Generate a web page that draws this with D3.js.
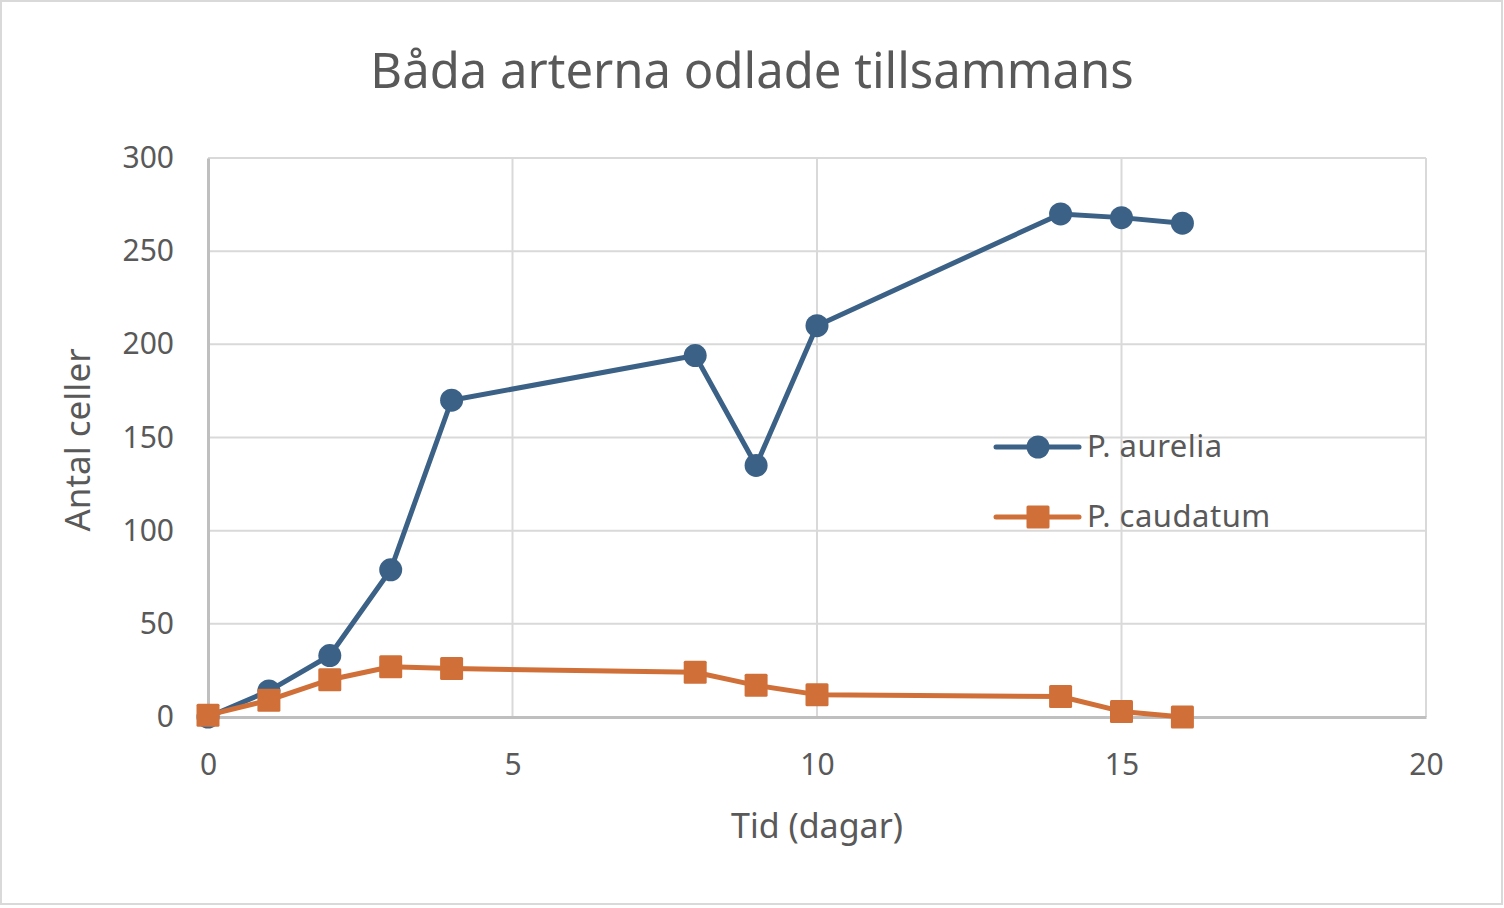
<!DOCTYPE html>
<html>
<head>
<meta charset="utf-8">
<script src="https://cdn.jsdelivr.net/npm/d3@7"></script>
<style>
  body { margin: 0; background: #fff; }
  text { font-family: "Noto Sans", "Open Sans", sans-serif; fill: #595959; }
</style>
</head>
<body>
<script>
// data
const days = [0, 1, 2, 3, 4, 8, 9, 10, 14, 15, 16];
const aurelia = [0, 14, 33, 79, 170, 194, 135, 210, 270, 268, 265];
const caudatum = [1, 9, 20, 27, 26, 24, 17, 12, 11, 3, 0];
const xTicks = [0, 5, 10, 15, 20];
const yTicks = [0, 50, 100, 150, 200, 250, 300];

const blue = '#3b6186', orange = '#d07038';

const svg = d3.select('body').append('svg')
              .attr('width', 1504).attr('height', 908);

svg.append('rect').attr('x', 1).attr('y', 1).attr('width', 1501).attr('height', 903)
   .style('fill', '#fff').style('stroke', '#d9d9d9').style('stroke-width', 2);

const x = d3.scaleLinear().domain([0, 20]).range([208, 1426]);
const y = d3.scaleLinear().domain([0, 300]).range([717, 158]);

// gridlines
svg.append('g').selectAll('line').data(yTicks.slice(1)).join('line')
   .attr('x1', x(0)).attr('x2', x(20)).attr('y1', d => y(d)).attr('y2', d => y(d))
   .style('stroke', '#d9d9d9').style('stroke-width', 2);
svg.append('g').selectAll('line').data(xTicks.slice(1)).join('line')
   .attr('x1', d => x(d)).attr('x2', d => x(d)).attr('y1', y(0)).attr('y2', y(300))
   .style('stroke', '#d9d9d9').style('stroke-width', 2);

// axes
const xAxis = svg.append('g').attr('transform', `translate(0,${y(0)})`)
   .call(d3.axisBottom(x).tickValues(xTicks).tickSize(0).tickPadding(34));
const yAxis = svg.append('g').attr('transform', `translate(${x(0)},0)`)
   .call(d3.axisLeft(y).tickValues(yTicks).tickSize(0).tickPadding(34));
[xAxis, yAxis].forEach(a => {
  a.select('.domain').style('stroke', '#bfbfbf').style('stroke-width', 3);
  a.selectAll('text').style('font-size', '30px').style('fill', '#595959')
   .style('font-family', '"Noto Sans", sans-serif');
});
xAxis.selectAll('text').attr('dy', '0.71em').attr('y', 37);

// title & axis titles
svg.append('text').attr('x', 752).attr('y', 88).attr('text-anchor', 'middle')
   .style('font-size', '49px').text('Båda arterna odlade tillsammans');
svg.append('text').attr('x', 817).attr('y', 838).attr('text-anchor', 'middle')
   .style('font-size', '34px').text('Tid (dagar)');
svg.append('text').attr('transform', 'translate(90,440) rotate(-90)').attr('text-anchor', 'middle')
   .style('font-size', '35px').text('Antal celler');

const line = d3.line().x(d => x(d[0])).y(d => y(d[1]));
const seriesA = days.map((d, i) => [d, aurelia[i]]);
const seriesC = days.map((d, i) => [d, caudatum[i]]);

svg.append('path').datum(seriesA).attr('d', line)
   .style('fill', 'none').style('stroke', blue).style('stroke-width', 5).style('stroke-linejoin', 'round');
svg.append('g').selectAll('circle').data(seriesA).join('circle')
   .attr('cx', d => x(d[0])).attr('cy', d => y(d[1])).attr('r', 11.5).style('fill', blue);

svg.append('path').datum(seriesC).attr('d', line)
   .style('fill', 'none').style('stroke', orange).style('stroke-width', 5).style('stroke-linejoin', 'round');
svg.append('g').selectAll('rect').data(seriesC).join('rect')
   .attr('x', d => x(d[0]) - 11.5).attr('y', d => y(d[1]) - 11.5)
   .attr('width', 23).attr('height', 23).attr('rx', 1.5).style('fill', orange);

// legend
const legend = svg.append('g');
legend.append('line').attr('x1', 996).attr('x2', 1079).attr('y1', 447).attr('y2', 447)
      .style('stroke', blue).style('stroke-width', 5).style('stroke-linecap', 'round');
legend.append('circle').attr('cx', 1038).attr('cy', 447).attr('r', 11.5).style('fill', blue);
legend.append('text').attr('x', 1087).attr('y', 457).style('font-size', '31px')
      .style('letter-spacing', '0.5px').text('P. aurelia');
legend.append('line').attr('x1', 996).attr('x2', 1079).attr('y1', 517).attr('y2', 517)
      .style('stroke', orange).style('stroke-width', 5).style('stroke-linecap', 'round');
legend.append('rect').attr('x', 1026.5).attr('y', 505.5).attr('width', 23).attr('height', 23)
      .attr('rx', 1.5).style('fill', orange);
legend.append('text').attr('x', 1087).attr('y', 527).style('font-size', '31px')
      .style('letter-spacing', '0.5px').text('P. caudatum');
</script>
</body>
</html>
